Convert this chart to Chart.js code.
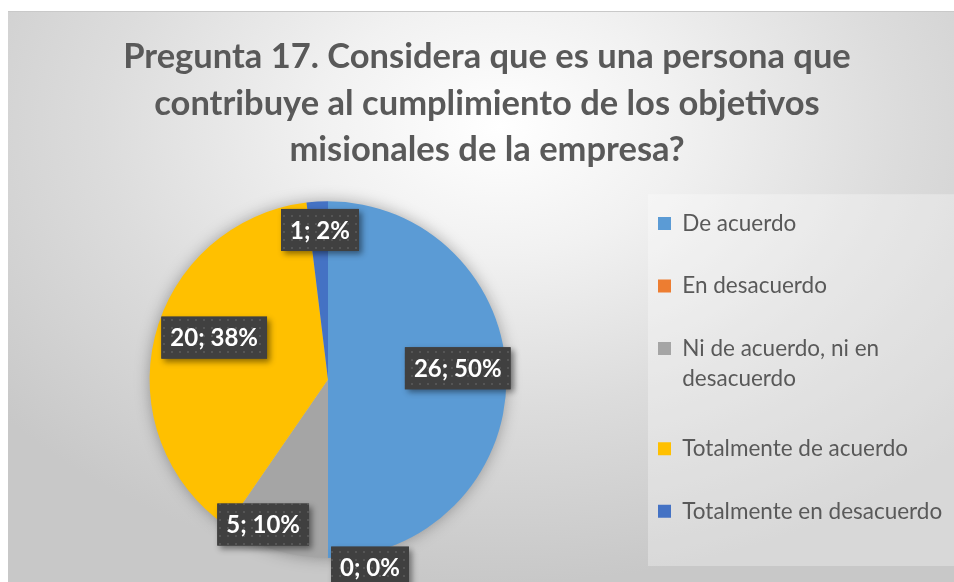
<!DOCTYPE html>
<html>
<head>
<meta charset="utf-8">
<script src="https://cdn.jsdelivr.net/npm/chart.js"></script>
<style>
  html, body { margin: 0; padding: 0; background: #fff; }
  #wrap {
    position: absolute; left: 8px; top: 11px; width: 946px; height: 571px;
    border-top: 1px solid #c9c9c9;
    background: radial-gradient(ellipse 68% 80% at 52% 20%, #ffffff 0%, #f1f1f1 28%, #dcdcdc 62%, #c8c8c8 100%);
  }
  canvas { display: block; }
</style>
</head>
<body>
<div id="wrap"><canvas id="pieChart" width="946" height="571"></canvas></div>
<script>
var categories = [
  "De acuerdo",
  "En desacuerdo",
  ["Ni de acuerdo, ni en", "desacuerdo"],
  "Totalmente de acuerdo",
  "Totalmente en desacuerdo"
];
var responses = [26, 0, 5, 20, 1];
var sliceColors = ["#5b9bd5", "#ed7d31", "#a5a5a5", "#ffc000", "#4472c4"];
var titleLines = [
  "Pregunta 17. Considera que es una persona que",
  "contribuye al cumplimiento de los objetivos",
  "misionales de la empresa?"
];

// where each value box sits: share of the radius, and a small turn off the slice middle (deg)
var labelRadius = [0.73, 1.08, 0.89, 0.68, 0.84];
var labelTurn = [-5, -12.6, 6.8, 6.4, 0.4];

// dotted fill used by the dark value boxes
var dots = document.createElement("canvas");
dots.width = 8; dots.height = 8;
var dctx = dots.getContext("2d");
dctx.fillStyle = "#404040";
dctx.fillRect(0, 0, 8, 8);
dctx.fillStyle = "#555555";
dctx.fillRect(3, 3, 2, 2);

var legendSpace = {
  id: "legendSpace",
  beforeInit: function(chart) {
    var fit = chart.legend.fit;
    chart.legend.fit = function() {
      var h = this.maxHeight;
      this.maxHeight = h + 300;   // keep all entries in one column
      fit.call(this);
      this.maxHeight = h;
      this.height = h;
      this.width = 318;
    };
  },
  afterLayout: function(chart) {
    var lg = chart.legend;
    lg.left = chart.chartArea.right - 18;
    lg.top = chart.chartArea.top - 29;
    lg.bottom = chart.height;
  },
  beforeDraw: function(chart) {
    var ctx = chart.ctx, area = chart.chartArea;
    ctx.save();
    ctx.fillStyle = "rgba(255,255,255,0.3)";
    ctx.fillRect(area.right + 12, area.top - 7, chart.width - area.right - 12, area.bottom - area.top + 15);
    ctx.restore();
  }
};

var pieShadow = {
  id: "pieShadow",
  beforeDatasetsDraw: function(chart) {
    var arc = chart.getDatasetMeta(0).data[0];
    var ctx = chart.ctx;
    ctx.save();
    ctx.shadowColor = "rgba(0,0,0,0.35)";
    ctx.shadowBlur = 16;
    ctx.fillStyle = "#bbbbbb";
    ctx.beginPath();
    ctx.arc(arc.x, arc.y, arc.outerRadius - 1, 0, Math.PI * 2);
    ctx.fill();
    ctx.restore();
  }
};

var valueBoxes = {
  id: "valueBoxes",
  afterDatasetsDraw: function(chart) {
    var ctx = chart.ctx;
    var values = chart.data.datasets[0].data;
    var total = values.reduce(function(a, b) { return a + b; }, 0);
    var pattern = ctx.createPattern(dots, "repeat");
    ctx.save();
    ctx.font = "bold 24px Lato";
    ctx.textAlign = "center";
    ctx.textBaseline = "middle";
    chart.getDatasetMeta(0).data.forEach(function(arc, i) {
      var p = arc.getProps(["x", "y", "startAngle", "endAngle", "outerRadius"], true);
      var a = (p.startAngle + p.endAngle) / 2 + labelTurn[i] * Math.PI / 180;
      var r = p.outerRadius * labelRadius[i];
      var cx = p.x + Math.cos(a) * r;
      var cy = p.y + Math.sin(a) * r;
      var text = values[i] + "; " + Math.round(values[i] / total * 100) + "%";
      var w = ctx.measureText(text).width + 18;
      var h = 42;
      ctx.save();
      ctx.shadowColor = "rgba(0,0,0,0.45)";
      ctx.shadowBlur = 6;
      ctx.shadowOffsetX = 3;
      ctx.shadowOffsetY = 3;
      ctx.fillStyle = "#404040";
      ctx.fillRect(cx - w / 2, cy - h / 2, w, h);
      ctx.restore();
      ctx.fillStyle = pattern;
      ctx.fillRect(cx - w / 2, cy - h / 2, w, h);
      ctx.fillStyle = "#ffffff";
      ctx.fillText(text, cx, cy + 1);
    });
    ctx.restore();
  }
};

var pieChart = new Chart(document.getElementById("pieChart"), {
  type: "pie",
  data: {
    labels: categories,
    datasets: [{
      data: responses,
      backgroundColor: sliceColors,
      borderWidth: 0
    }]
  },
  options: {
    responsive: false,
    animation: false,
    layout: { padding: { left: 12, bottom: 25 } },
    plugins: {
      title: {
        display: true,
        text: titleLines,
        color: "#595959",
        font: { family: "Lato", size: 34.5, weight: "bold", lineHeight: 1.345 },
        padding: { top: 22, bottom: 28 }
      },
      legend: {
        position: "right",
        align: "start",
        labels: {
          color: "#595959",
          font: { family: "Lato", size: 22.5, lineHeight: 1.34 },
          boxWidth: 13,
          boxHeight: 13,
          padding: 40
        }
      },
      tooltip: { enabled: false }
    }
  },
  plugins: [legendSpace, pieShadow, valueBoxes]
});
</script>
</body>
</html>
